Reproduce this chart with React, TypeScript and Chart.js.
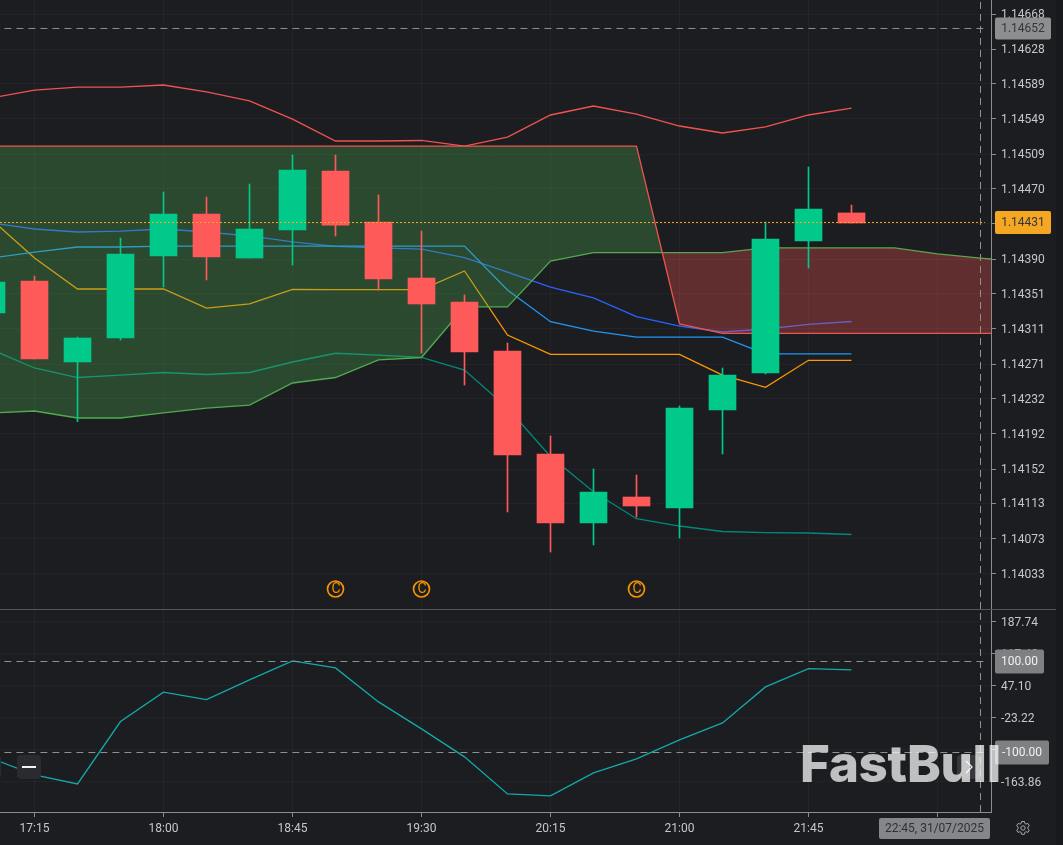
import { useEffect, useRef } from "react";
import { Chart, registerables } from "chart.js";

Chart.register(...registerables);

const BG = "#1c1d21";
const AXIS = "#8b8c8e";
const GRID = "rgba(255,255,255,0.035)";
const TICK_TEXT = "#c6c7c9";
const UP = "#00c98a";
const DOWN = "#ff5a5a";

// x is the candle index, 17:00 = 0, one candle = 15 minutes
const xMin = 0.197674;
const xMax = 23.244186;
const crosshairIdx = 23;
const xTickIdx = [1, 4, 7, 10, 13, 16, 19, 22];
const xTickLabels = ["17:15", "18:00", "18:45", "19:30", "20:15", "21:00", "21:45", "22:30"];

const priceMin = 1.139933;
const priceMax = 1.146839;
const priceTicks = [
  1.14668, 1.14628, 1.14589, 1.14549, 1.14509, 1.1447, 1.14431, 1.1439, 1.14351, 1.14311, 1.14271,
  1.14232, 1.14192, 1.14152, 1.14113, 1.14073, 1.14033,
];

const opens = [
  1.14329, 1.143652, 1.142734, 1.143006, 1.143936, 1.144412, 1.143913, 1.144231, 1.1449, 1.144321,
  1.143686, 1.143414, 1.142859, 1.141691, 1.140908, 1.141203, 1.141078, 1.14219, 1.142609, 1.144106,
  1.144424,
];
const closes = [
  1.143641, 1.142768, 1.143006, 1.143959, 1.144412, 1.143925, 1.144242, 1.144911, 1.144287, 1.143675,
  1.143392, 1.142847, 1.141679, 1.140908, 1.14126, 1.141101, 1.142212, 1.142586, 1.144129, 1.144469,
  1.14431,
];
const highs = [
  1.143664, 1.143709, 1.143017, 1.14414, 1.144662, 1.144605, 1.144752, 1.145081, 1.145081, 1.144628,
  1.144219, 1.143494, 1.142949, 1.141895, 1.141521, 1.141452, 1.142235, 1.142666, 1.144321, 1.144945,
  1.144514,
];
const lows = [
  1.143267, 1.142768, 1.142057, 1.142983, 1.143584, 1.143664, 1.143913, 1.143834, 1.144163, 1.14355,
  1.142836, 1.142473, 1.141033, 1.140579, 1.140659, 1.140976, 1.140738, 1.141691, 1.142598, 1.1438,
  1.14431,
];

const bandUpper = [
  1.145728, 1.145818, 1.145852, 1.145852, 1.145875, 1.145796, 1.145694, 1.145489, 1.14524, 1.14524,
  1.145246, 1.145183, 1.145285, 1.145535, 1.145637, 1.145546, 1.14541, 1.145331, 1.145399, 1.145535,
  1.145614,
];
const bandLower = [
  1.142874, 1.142666, 1.142558, 1.142586, 1.142615, 1.142592, 1.142615, 1.142734, 1.142833, 1.142813,
  1.142785, 1.142643, 1.142212, 1.141662, 1.141263, 1.140957, 1.140874, 1.140812, 1.1408, 1.140795,
  1.140778,
];
const baseLine = [
  1.143913, 1.143981, 1.144038, 1.144038, 1.144049, 1.144049, 1.144049, 1.144049, 1.144049, 1.144049,
  1.144049, 1.144049, 1.14355, 1.143191, 1.143085, 1.143017, 1.143017, 1.143017, 1.142825, 1.142825,
  1.142825,
];
const slowLine = [
  1.14431, 1.144242, 1.144208, 1.144219, 1.144242, 1.144208, 1.144163, 1.144095, 1.144044, 1.144027,
  1.144015, 1.143917, 1.143754, 1.143584, 1.14346, 1.143248, 1.143142, 1.143074, 1.143108, 1.143161,
  1.143193,
];
const fastLine = [
  1.14435, 1.143913, 1.143562, 1.143562, 1.143562, 1.143346, 1.143392, 1.143556, 1.143554, 1.143554,
  1.143554, 1.143766, 1.14304, 1.142821, 1.142821, 1.142821, 1.142821, 1.142586, 1.142447, 1.142753,
  1.142753,
];
const spanRed = [
  1.145183, 1.145183, 1.145183, 1.145183, 1.145183, 1.145183, 1.145183, 1.145183, 1.145183, 1.145183,
  1.145183, 1.145183, 1.145183, 1.145183, 1.145183, 1.145183, 1.143165, 1.143059, 1.143059, 1.143059,
  1.143059, 1.143059, 1.143059, 1.143059, 1.143059,
];
const spanGreen = [
  1.142156, 1.142178, 1.142099, 1.142099, 1.142156, 1.142212, 1.142246, 1.142496, 1.142558, 1.142757,
  1.142785, 1.143358, 1.143358, 1.143879, 1.143974, 1.143974, 1.143974, 1.143974, 1.144027, 1.144027,
  1.144027, 1.144027, 1.143959, 1.143913, 1.143868,
];

const lastPrice = 1.144316;
const markedPrice = 1.146516;
const markerIdx = [8, 10, 15];
const markerPrice = 1.14016;

const cciMin = -230.75;
const cciMax = 215.4;
const cciTicks = [187.74, 117.42, 47.1, -23.22, -93.54, -163.86];
const cciValues = [
  -112.9, -149.2, -169, -32, 32.6, 16.3, 59.6, 101.4, 85.9, 11.2, -48.1, -109.6, -191, -195.3, -144.8,
  -114, -72.3, -34.9, 44.2, 84.4, 81.6,
];
const cciLevels = [100, -100];

const toPoints = (values: number[]) => values.map((y, x) => ({ x, y }));

const lineSet = (data: any[], color: string, order: number, extra: any = {}) => ({
  type: "line" as const,
  data,
  borderColor: color,
  borderWidth: 1.3,
  pointRadius: 0,
  tension: 0,
  fill: false,
  order,
  ...extra,
});

const levelSet = (y: number, color: string, dash: number[], x0: number, x1: number) =>
  lineSet(
    [
      { x: x0, y },
      { x: x1, y },
    ],
    color,
    0,
    { borderDash: dash, borderWidth: 1 }
  );

const crosshair = (y0: number, y1: number) =>
  lineSet(
    [
      { x: crosshairIdx, y: y0 },
      { x: crosshairIdx, y: y1 },
    ],
    "#8f9092",
    0,
    { borderDash: [7, 5], borderWidth: 1 }
  );

type Tag = { text: string; x: number; w: number; h: number; fill: string; color: string; value?: number; y?: number };

// value boxes sitting on the axes
const tagsPlugin = (tags: Tag[]) => ({
  id: "tags",
  afterDraw(chart: any) {
    const { ctx } = chart;
    ctx.save();
    ctx.font = "12px Roboto";
    ctx.textBaseline = "middle";
    ctx.textAlign = "center";
    tags.forEach((t) => {
      const cy = t.value !== undefined ? chart.scales.y.getPixelForValue(t.value) : t.y!;
      ctx.fillStyle = t.fill;
      ctx.beginPath();
      ctx.roundRect(t.x, cy - t.h / 2, t.w, t.h, 2);
      ctx.fill();
      ctx.fillStyle = t.color;
      ctx.fillText(t.text, t.x + t.w / 2, cy + 0.5);
    });
    ctx.restore();
  },
});

// the letter inside the round event markers
const markerPlugin = {
  id: "markerLetters",
  afterDatasetsDraw(chart: any) {
    const { ctx, scales } = chart;
    ctx.save();
    ctx.font = "14px Roboto";
    ctx.fillStyle = "#f59300";
    ctx.textAlign = "center";
    ctx.textBaseline = "middle";
    markerIdx.forEach((i) => {
      ctx.fillText("C", scales.x.getPixelForValue(i) + 0.5, scales.y.getPixelForValue(markerPrice) + 0.5);
    });
    ctx.restore();
  },
};

// the axis boxes take no room beyond the sizes given here
const noPadding = (scale: any) => {
  scale.paddingTop = 0;
  scale.paddingBottom = 0;
  scale.paddingLeft = 0;
  scale.paddingRight = 0;
};

const xScale = (showLabels: boolean) => ({
  type: "linear" as const,
  min: xMin,
  max: xMax,
  offset: false,
  afterBuildTicks: (scale: any) => {
    scale.ticks = xTickIdx.map((value) => ({ value }));
  },
  afterFit: (scale: any) => {
    scale.height = showLabels ? 33 : 0;
    noPadding(scale);
  },
  grid: { color: GRID, offset: false, drawTicks: showLabels, tickLength: 5, tickColor: AXIS },
  border: { display: showLabels, color: AXIS },
  ticks: {
    display: showLabels,
    autoSkip: false,
    maxRotation: 0,
    padding: 5,
    color: TICK_TEXT,
    font: { family: "Roboto", size: 12 },
    callback: (value: any) => xTickLabels[xTickIdx.indexOf(Number(value))],
  },
});

const yScale = (min: number, max: number, values: number[], digits: number) => ({
  type: "linear" as const,
  position: "right" as const,
  min,
  max,
  afterBuildTicks: (scale: any) => {
    scale.ticks = values.map((value) => ({ value }));
  },
  afterFit: (scale: any) => {
    scale.width = 72;
    noPadding(scale);
  },
  grid: { color: GRID, tickLength: 5, tickColor: AXIS },
  border: { color: AXIS },
  ticks: {
    autoSkip: false,
    padding: 5,
    labelOffset: 1,
    color: TICK_TEXT,
    font: { family: "Roboto", size: 12 },
    callback: (value: any) => Number(value).toFixed(digits),
  },
});

const baseOptions = {
  responsive: true,
  maintainAspectRatio: false,
  animation: false as const,
  layout: { padding: 0, autoPadding: false },
  events: [],
  plugins: {
    legend: { display: false },
    tooltip: { enabled: false },
    filler: { drawTime: "beforeDatasetDraw" as const },
  },
};

function PricePane() {
  const canvasRef = useRef<HTMLCanvasElement>(null);

  useEffect(() => {
    if (!canvasRef.current) return;
    const candleColors = closes.map((c, i) => (c >= opens[i] ? UP : DOWN));
    const chart = new Chart(canvasRef.current, {
      type: "bar",
      data: {
        datasets: [
          levelSet(lastPrice, "#f5a623", [2, 2], xMin, 23.1),
          levelSet(markedPrice, "#8f9092", [7, 5], 0.3, 23.1),
          crosshair(priceMin, priceMax),
          {
            type: "line",
            data: markerIdx.map((x) => ({ x, y: markerPrice })),
            showLine: false,
            pointStyle: "circle",
            pointRadius: 8,
            pointBorderWidth: 1.7,
            pointBorderColor: "#f59300",
            pointBackgroundColor: "rgba(0,0,0,0)",
            order: 1,
          },
          {
            type: "bar",
            data: opens.map((o, i) => ({ x: i, y: [o, closes[i]] })),
            backgroundColor: candleColors,
            barThickness: 27,
            grouped: false,
            order: 2,
          },
          {
            type: "bar",
            data: lows.map((l, i) => ({ x: i, y: [l, highs[i]] })),
            backgroundColor: candleColors,
            barThickness: 1,
            grouped: false,
            order: 3,
          },
          lineSet(toPoints(spanRed), "#ef5350", 4, {
            fill: {
              target: "+1",
              above: "rgba(76,175,80,0.3)",
              below: "rgba(239,83,80,0.33)",
            },
          }),
          lineSet(toPoints(spanGreen), "#4caf50", 4),
          lineSet(toPoints(bandUpper), "#ef5350", 5),
          lineSet(toPoints(bandLower), "#00897b", 5),
          lineSet(toPoints(baseLine), "#2196f3", 6),
          lineSet(toPoints(slowLine), "#2962ff", 6),
          lineSet(toPoints(fastLine), "#ff9800", 6),
        ] as any,
      },
      options: {
        ...baseOptions,
        scales: {
          x: xScale(false),
          y: yScale(priceMin, priceMax, priceTicks, 5),
        },
      } as any,
      plugins: [
        markerPlugin,
        tagsPlugin([
          { text: "1.14652", value: markedPrice, x: 995, w: 56, h: 22, fill: "#8d8e90", color: "#35363a" },
          { text: "1.14431", value: lastPrice, x: 995, w: 56, h: 23, fill: "#f5a623", color: "#35363a" },
        ]),
      ],
    });
    return () => chart.destroy();
  }, []);

  return (
    <div style={{ position: "absolute", left: 0, top: 0, width: 1063, height: 609 }}>
      <canvas ref={canvasRef}></canvas>
    </div>
  );
}

function CciPane() {
  const canvasRef = useRef<HTMLCanvasElement>(null);

  useEffect(() => {
    if (!canvasRef.current) return;
    const chart = new Chart(canvasRef.current, {
      type: "line",
      data: {
        datasets: [
          ...cciLevels.map((v) => levelSet(v, "#8f9092", [7, 5], 0.3, 23.1)),
          crosshair(cciMin, cciMax),
          lineSet(toPoints(cciValues), "#14a9a9", 2),
        ] as any,
      },
      options: {
        ...baseOptions,
        scales: {
          x: xScale(true),
          y: yScale(cciMin, cciMax, cciTicks, 2),
        },
      } as any,
      plugins: [
        tagsPlugin([
          { text: "100.00", value: 100, x: 995, w: 49, h: 24, fill: "#7f8082", color: "#f0f0f0" },
          { text: "-100.00", value: -100, x: 995, w: 54, h: 24, fill: "#7f8082", color: "#f0f0f0" },
          { text: "22:45, 31/07/2025", y: 219.5, x: 879, w: 111, h: 21, fill: "#85868a", color: "#2f3034" },
        ]),
      ],
    });
    return () => chart.destroy();
  }, []);

  return (
    <div style={{ position: "absolute", left: 0, top: 609, width: 1063, height: 236 }}>
      <canvas ref={canvasRef}></canvas>
    </div>
  );
}

const paneButton = { position: "absolute" as const, top: 755, width: 24, height: 24, borderRadius: 4 };

export default function App() {
  return (
    <div
      style={{
        position: "fixed",
        left: 0,
        top: 0,
        width: 1063,
        height: 845,
        overflow: "hidden",
        background: BG,
        fontFamily: "Roboto, sans-serif",
      }}
    >
      <PricePane />
      <CciPane />
      <div style={{ position: "absolute", left: 0, top: 609, width: 1056, height: 1, background: "#55565a" }} />
      <div style={{ position: "absolute", left: 1056, top: 0, width: 7, height: 845, background: "#17181b" }} />
      <div style={{ ...paneButton, left: -23, background: "#2a2b30" }} />
      <div style={{ ...paneButton, left: 17, background: "#2a2b30" }}>
        <div style={{ position: "absolute", left: 5, top: 11, width: 14, height: 2, background: "#f2f2f2" }} />
      </div>
      <div style={{ ...paneButton, left: 957, background: "rgba(120,120,125,0.3)" }}>
        <svg width="24" height="24" style={{ display: "block" }}>
          <path d="M9 6 L15 12 L9 18" fill="none" stroke="#e8e8e8" strokeWidth="1.4" />
        </svg>
      </div>
      <div
        style={{
          position: "absolute",
          left: 800,
          top: 733,
          fontFamily: "Inter, sans-serif",
          fontWeight: 800,
          fontSize: 51,
          lineHeight: "62px",
          letterSpacing: -0.3,
          color: "rgba(255,255,255,0.72)",
          pointerEvents: "none",
          whiteSpace: "nowrap",
        }}
      >
        FastBull
      </div>
      <svg width="16" height="16" viewBox="0 0 16 16" style={{ position: "absolute", left: 1015, top: 820 }}>
        <path
          d="M6.6 1.5h2.8l.4 1.9 1.3.7 1.8-.7 1.4 2.4-1.4 1.3v1.6l1.4 1.3-1.4 2.4-1.8-.7-1.3.7-.4 1.9H6.6l-.4-1.9-1.3-.7-1.8.7-1.4-2.4 1.4-1.3V7.1L1.7 5.8l1.4-2.4 1.8.7 1.3-.7z"
          fill="none"
          stroke="#a8a9ab"
          strokeWidth="1"
        />
        <circle cx="8" cy="8" r="2.2" fill="none" stroke="#a8a9ab" strokeWidth="1" />
      </svg>
    </div>
  );
}
